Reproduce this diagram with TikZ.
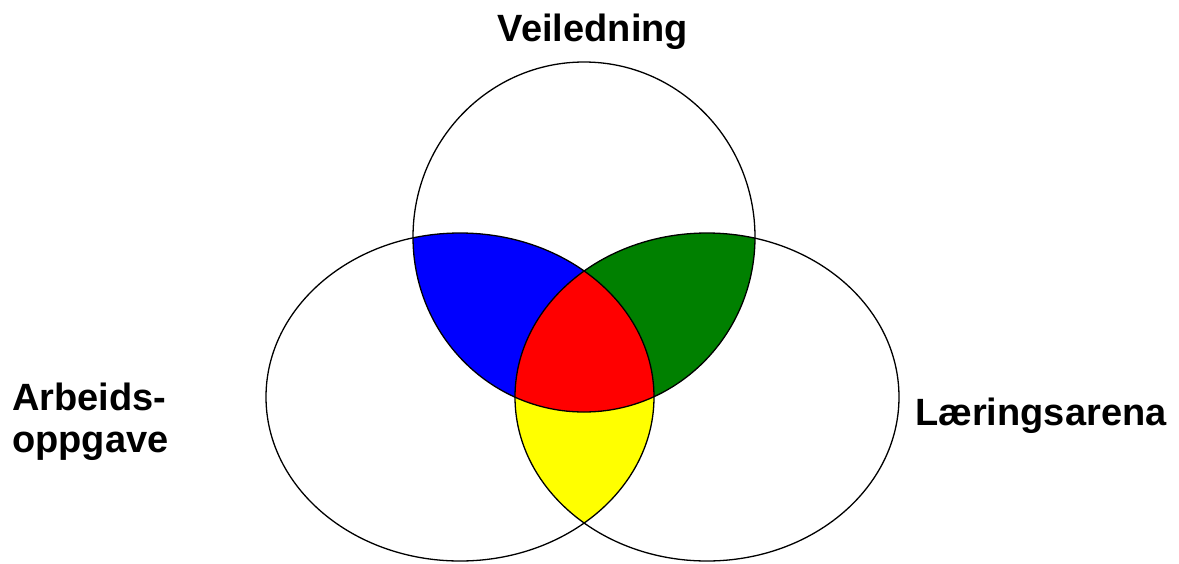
\documentclass[tikz,border=0pt]{standalone}
\usepackage{fontspec}
\setmainfont{Liberation Sans}
\definecolor{vblue}{RGB}{0,0,255}
\definecolor{vgreen}{RGB}{0,128,0}
\definecolor{vred}{RGB}{255,0,0}
\definecolor{vyellow}{RGB}{255,255,0}
\tikzset{
  lbl/.style={inner sep=0pt, font=\fontsize{38}{42}\selectfont\bfseries},
  outline/.style={draw=black, line width=1.3pt}
}
\newcommand{\topE}{(584,237) ellipse [x radius=171pt, y radius=175pt]}
\newcommand{\leftE}{(460,397) ellipse [x radius=194pt, y radius=164pt]}
\newcommand{\rightE}{(707,397) ellipse [x radius=192pt, y radius=164pt]}
\begin{document}
\begin{tikzpicture}[x=1pt,y=-1pt]
\useasboundingbox (0,0) rectangle (1179,563);
\fill[white] (0,0) rectangle (1179,563);
% blue: top & left
\begin{scope}
  \clip \topE; \clip \leftE;
  \fill[vblue] (0,0) rectangle (1179,563);
\end{scope}
% green: top & right
\begin{scope}
  \clip \topE; \clip \rightE;
  \fill[vgreen] (0,0) rectangle (1179,563);
\end{scope}
% yellow: left & right
\begin{scope}
  \clip \leftE; \clip \rightE;
  \fill[vyellow] (0,0) rectangle (1179,563);
\end{scope}
% red: all three
\begin{scope}
  \clip \topE; \clip \leftE; \clip \rightE;
  \fill[vred] (0,0) rectangle (1179,563);
\end{scope}
\draw[outline] \topE;
\draw[outline] \leftE;
\draw[outline] \rightE;
\node[lbl, anchor=base] (veil) at (593,41) {Veiledning};
\node[lbl, anchor=base west] (arb1) at (12,410) {Arbeids-};
\node[lbl, anchor=base west] (arb2) at (12,452) {oppgave};
\node[lbl, anchor=base west] (laer) at (915,425) {Læringsarena};
\end{tikzpicture}
\end{document}
